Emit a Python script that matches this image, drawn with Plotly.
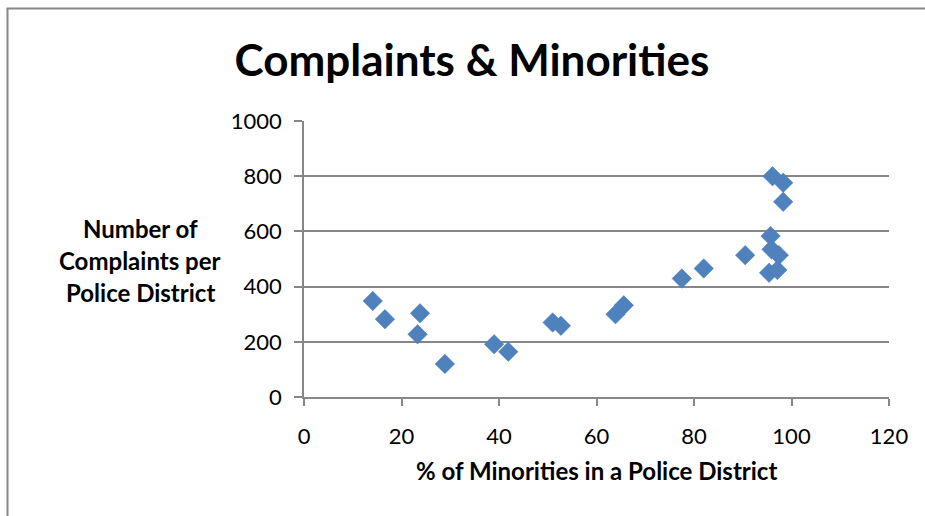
import plotly.graph_objects as go

# Data
pct_minorities = [14.1, 16.6, 23.8, 23.3, 28.9, 39.0, 41.9, 51.0, 52.7,
                  63.9, 65.6, 77.5, 82.0, 90.5,
                  96.1, 98.3, 98.3, 95.7, 95.9, 97.4, 95.4, 97.1]
complaints = [348, 282, 303, 227, 120, 191, 164, 270, 258,
              300, 332, 429, 466, 514,
              800, 776, 707, 583, 535, 514, 450, 460]

x_ticks = [0, 20, 40, 60, 80, 100, 120]
y_ticks = [0, 200, 400, 600, 800, 1000]

title_text = "Complaints & Minorities"
x_title = "% of Minorities in a Police District"
y_title_lines = ["Number of", "Complaints per", "Police District"]

W, H = 925, 516
L, R, T, B = 304, 36, 121, 119
PW, PH = W - L - R, H - T - B

def px_x(p):
    return (p - L) / PW

def px_y(p):
    return (H - B - p) / PH

FONT = "Lato"
GRID = "#878787"

fig = go.Figure()
fig.add_trace(go.Scatter(
    x=pct_minorities, y=complaints, mode="markers",
    marker=dict(symbol="diamond", size=15, color="#4F81BD",
                line=dict(color="#4A7EBB", width=0.5)),
    showlegend=False, cliponaxis=False,
))

fig.update_layout(
    width=W, height=H,
    margin=dict(l=L, r=R, t=T, b=B, pad=0),
    paper_bgcolor="white", plot_bgcolor="white",
    font=dict(family=FONT, color="black"),
    title=dict(text="<b>" + title_text + "</b>", x=472 / W, xanchor="center",
               y=1 - 61 / H, yanchor="middle", yref="container",
               font=dict(size=44, family=FONT, color="black")),
    xaxis=dict(range=[0, 120], tickvals=x_ticks, showgrid=False,
               showline=True, linecolor=GRID, linewidth=1.5,
               ticks="outside", ticklen=7, tickcolor=GRID, tickwidth=1.5,
               tickfont=dict(size=22, family=FONT, color="black"),
               ticklabelstandoff=12, zeroline=False, fixedrange=True),
    yaxis=dict(range=[0, 1000], tickvals=y_ticks, showgrid=True,
               gridcolor=GRID, gridwidth=1.5,
               showline=True, linecolor=GRID, linewidth=1.5,
               ticks="outside", ticklen=8, tickcolor=GRID, tickwidth=1.5,
               tickfont=dict(size=22, family=FONT, color="black"),
               ticklabelstandoff=8, zeroline=False, fixedrange=True),
)

# y-axis title (horizontal, three lines)
for i, line in enumerate(y_title_lines):
    fig.add_annotation(text="<b>" + line + "</b>", xref="paper", yref="paper",
                       x=px_x(140), y=px_y(228 + 32 * i), xanchor="center",
                       yanchor="middle", showarrow=False,
                       font=dict(size=24, family=FONT, color="black"))

# x-axis title
fig.add_annotation(text="<b>" + x_title + "</b>", xref="paper", yref="paper",
                   x=px_x(596), y=px_y(470), xanchor="center", yanchor="middle",
                   showarrow=False, font=dict(size=24, family=FONT, color="black"))

# chart frame (partially cropped in the reference)
fig.add_shape(type="line", xref="paper", yref="paper",
              x0=px_x(7.5), x1=px_x(7.5), y0=px_y(8.5), y1=px_y(H + 2),
              line=dict(color=GRID, width=2))
fig.add_shape(type="line", xref="paper", yref="paper",
              x0=px_x(6.5), x1=px_x(W + 2), y0=px_y(8.5), y1=px_y(8.5),
              line=dict(color=GRID, width=2))

fig.write_html("out.html")
